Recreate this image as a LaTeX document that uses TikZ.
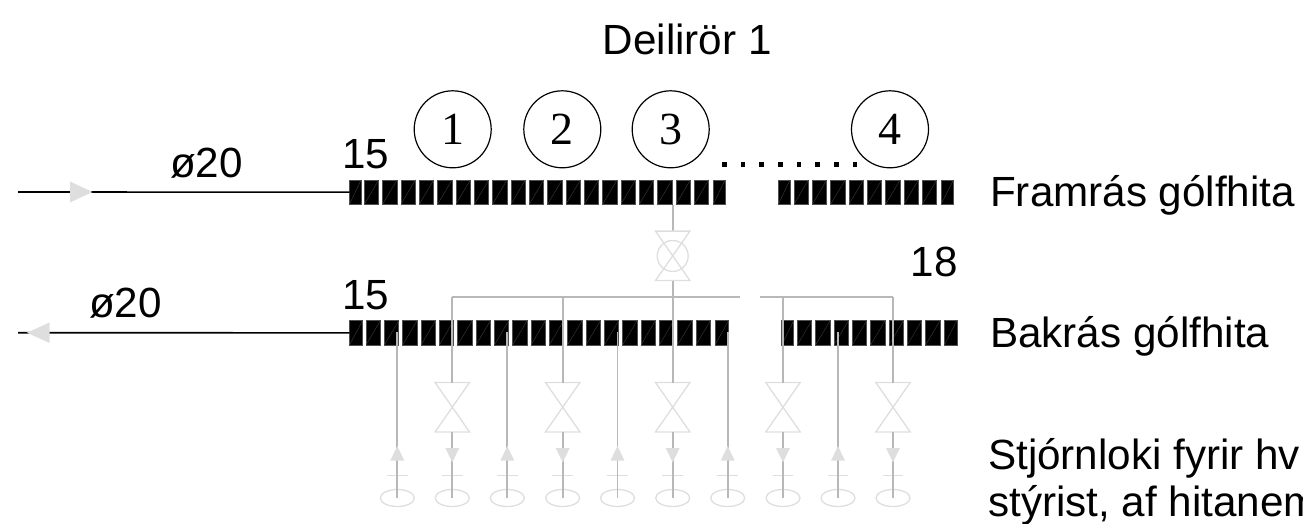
\documentclass[tikz,border=0pt]{standalone}
\usepackage{fontspec}
\setmainfont{Liberation Sans}
\newfontfamily\numfont{Liberation Serif}
\usetikzlibrary{shapes.geometric}
\definecolor{pipeline}{HTML}{B8B8B8}
\definecolor{pale}{HTML}{DEDEDE}
\definecolor{blockedge}{HTML}{505050}
\definecolor{slashgrey}{HTML}{3C3C3C}
\tikzset{
  x=1pt,y=-1pt,
  lbl/.style={anchor=base west,inner sep=0pt,font=\fontsize{42.2}{50}\selectfont},
  circ/.style={circle,draw=black,line width=1.2pt,minimum size=77pt,inner sep=0pt,font=\numfont\fontsize{46}{50}\selectfont},
  blk/.style={rectangle,fill=black,draw=blockedge,line width=0.5pt,inner sep=0pt,outer sep=0pt,minimum height=24.3pt,anchor=north west},
  slash/.style={draw=slashgrey,line width=0.4pt},
  main/.style={draw=black,line width=1.6pt},
  pipe/.style={draw=pipeline,line width=1.8pt},
  pv/.style={draw=pale,line width=1.3pt},
  vbox/.style={inner sep=0pt,minimum width=34pt,minimum height=49pt},
  oval/.style={ellipse,draw=pale,line width=1.3pt,inner sep=0pt,minimum width=34pt,minimum height=17pt},
  dot/.style={rectangle,fill=black,inner sep=0pt,minimum size=4.5pt},
  tip/.style={fill=pale,draw=none}
}
\begin{document}
\begin{tikzpicture}
\useasboundingbox (0,0) rectangle (1303,524);
\clip (0,0) rectangle (1303,524);
% text
\node[lbl] (title) at (602.5,54.5) {Deilirör 1};
\node[lbl] (dtop) at (170,177.5) {ø20};
\node[lbl] (dbot) at (89,317) {ø20};
\node[lbl] (ntop) at (342,168) {15};
\node[lbl] (nbot) at (342,309) {15};
\node[lbl] (nend) at (910.5,276.5) {18};
\node[lbl] (fram) at (990,206.5) {Framrás gólfhita};
\node[lbl] (bak) at (990,347.5) {Bakrás gólfhita};
\node[lbl] (stj) at (988,469) {Stjórnloki fyrir hv};
\node[lbl] (sty) at (988,516) {stýrist, af hitanem};
% numbered circles
\node[circ] (c1) at (452.7,129.3) {1};
\node[circ] (c2) at (562.3,129.3) {2};
\node[circ] (c3) at (670.7,129.3) {3};
\node[circ] (c4) at (890,129.3) {4};
\foreach \i in {0,...,7} \node[dot] (d\i) at ({724.3+18.67*\i},164.3) {};
% block rows
\newcommand{\blockat}[4]{%
  \node[blk,minimum width=#3 pt] (#4) at (#1,#2) {};
  \draw[slash] (#4.south west) -- (#4.north east);}
\blockat{349.5}{180}{11.5}{fa}
\foreach \i in {0,...,18} {\blockat{364.3+18.33*\i}{180}{14.4}{fb\i}}
\blockat{713.3}{180}{11.7}{fc}
\blockat{778.3}{180}{11.7}{fd}
\foreach \i in {0,...,7} {\blockat{794+18.33*\i}{180}{14.4}{fe\i}}
\blockat{941}{180}{12.5}{ff}
\blockat{349.5}{320.7}{13}{ba}
\foreach \i in {0,...,18} {\blockat{366+18.33*\i}{320.7}{14.4}{bb\i}}
\blockat{715}{320.7}{13.5}{bc}
\blockat{781.7}{320.7}{12}{bd}
\foreach \i in {0,...,7} {\blockat{797.3+18.33*\i}{320.7}{14.4}{be\i}}
\blockat{944.3}{320.7}{12.5}{bf}
% main supply and return
\coordinate (inS) at (18,192);
\coordinate (inR) at (18,332.7);
\draw[main] (inS) -- (fa.west);
\draw[main] (inR) -- (ba.west);
\fill[tip] (70,181.5) -- (92.5,192) -- (70,202.5) -- cycle;
\fill[tip] (49.5,322.5) -- (27,332.7) -- (49.5,343) -- cycle;
% header
\coordinate (h1) at (452.3,296.7);
\coordinate (h2) at (740,296.7);
\coordinate (h3) at (760,296.7);
\coordinate (h4) at (893,296.7);
\draw[pipe] (h2) -- (h1);
\draw[pipe] (h3) -- (h4);
% central valve
\node[vbox] (mv) at (672.7,255.8) {};
\node[circle,draw=pale,line width=1.3pt,minimum size=31pt,inner sep=0pt] (mc) at (672.7,256) {};
\coordinate (ms) at (672.7,204.5);
\draw[pipe] (ms) -- (mv.north);
\draw[pv] (mv.north west) -- (mv.north east) -- (mv.south west) -- (mv.south east) -- cycle;
% feed branches with valves
\foreach \n/\x in {1/452.3,2/562.7,3/672.7,4/783,5/893} {
  \node[vbox] (v\n) at (\x,407.2) {};
  \node[oval] (o\n) at (\x,498) {};
  \draw[pv] (v\n.north west) -- (v\n.north east) -- (v\n.south west) -- (v\n.south east) -- cycle;
  \draw[pv,line width=1pt] (\x-10.3,475.3) -- (\x+10.3,475.3);
  \draw[pipe] (v\n.south) -- (o\n.center);
  \fill[tip] (\x-7,448) -- (\x+7,448) -- (\x,462.3) -- cycle;
}
\foreach \n/\x in {1/452.3,2/562.7,4/783,5/893} {
  \coordinate (t\n) at (\x,296.7);
  \draw[pipe] (t\n) -- (v\n.north);
}
\draw[pipe] (mv.south) -- (v3.north);
% return branches
\foreach \n/\x in {1/397.3,2/507.3,3/617.5,4/727.7,5/838} {
  \coordinate (r\n) at (\x,332);
  \node[oval] (p\n) at (\x,498) {};
  \draw[pv,line width=1pt] (\x-10.3,475.3) -- (\x+10.3,475.3);
  \draw[pipe] (r\n) -- (p\n.center);
  \fill[tip] (\x-7,460.7) -- (\x+7,460.7) -- (\x,446) -- cycle;
}
\end{tikzpicture}
\end{document}
